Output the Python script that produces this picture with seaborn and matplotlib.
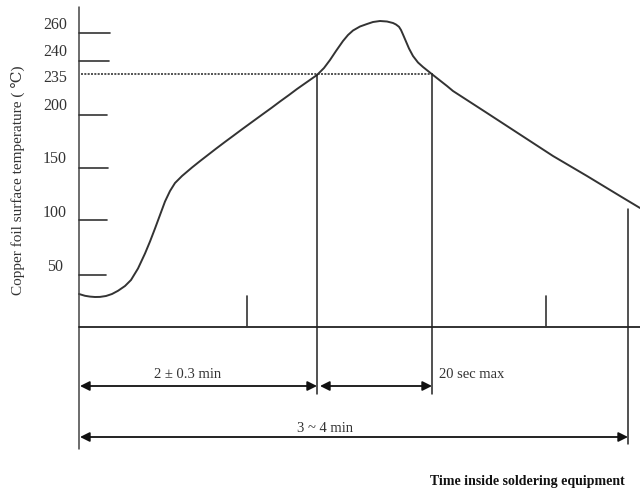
import matplotlib
matplotlib.use("Agg")
import matplotlib.pyplot as plt
import seaborn as sns
import pandas as pd

sns.set_theme(style="white")
plt.rcParams['font.family'] = ['Liberation Serif', 'DejaVu Serif']

# Schematic profile (canvas units, y grows downward)
profile_x = [79, 85, 90, 95, 100, 106, 112, 118, 125, 131, 138, 145, 150, 155,
             160, 165, 170, 175, 182, 192, 200, 208, 216, 225, 233, 242,
             252, 263, 272, 280, 289, 297, 307, 317, 324, 330, 336, 343, 348,
             353, 360, 367, 373, 380, 387, 393, 396, 399, 401, 403, 406, 409, 413,
             418, 423, 428, 433, 440, 447, 453, 470, 487, 520, 553, 587, 620, 640]
profile_y = [295, 296.8, 297.6, 298, 297.9, 297, 295, 291.8, 287, 281, 269.5, 254.5,
             242.5, 229.5, 216, 202.5, 192, 184, 177, 168.5, 162.1, 155.9, 149.7,
             142.9, 137, 130.3, 123, 115, 108.5, 102.5, 96, 90, 83, 76, 69, 61, 52,
             42, 36, 31.5, 27.5, 25, 23, 22, 22.5, 24, 25.5, 27.8, 31, 35.5, 42.5,
             49.5, 57, 63.5, 68, 72, 76, 81.5, 87, 92, 103, 114, 135.5, 157, 177,
             197, 209]

temp_labels = ["260", "240", "235", "200", "150", "100", "50"]
label_y = [25, 52, 78, 106, 159, 213, 267]
tick_y = [34, 62, None, 116, 169, 221, 276]
tick_len = [110, 109, None, 107, 108, 107, 106]

ref_temp_y = 75          # 235 °C line
axis_x = 79
base_y = 328
minor_ticks_x = [247, 546]
markers_x = [317, 432, 628]
markers_top = [76, 76, 210]
markers_bottom = [395, 395, 445]

spans = [("2 ± 0.3 min", 80, 317, 387), ("", 320, 432, 387), ("3 ~ 4 min", 80, 628, 438)]
span_text_pos = [(188, 375), None, (325, 428)]

fig = plt.figure(figsize=(6.4, 4.89), dpi=100)
ax = fig.add_axes([0, 0, 1, 1])
ax.set_xlim(0, 640)
ax.set_ylim(489, 0)
ax.axis("off")

lc = "#222222"
df = pd.DataFrame({"x": profile_x, "y": profile_y})
sns.lineplot(data=df, x="x", y="y", ax=ax, color="#333333", lw=1.4, sort=False,
             estimator=None, solid_joinstyle="round", solid_capstyle="round")

# axes lines
ax.plot([axis_x, axis_x], [8, 450], color="#444444", lw=1.1)
ax.plot([axis_x, 640], [base_y, base_y], color=lc, lw=1.3)

# temperature ticks and labels
for lab, ly, ty, tl in zip(temp_labels, label_y, tick_y, tick_len):
    ax.text(55, ly, lab, ha="center", va="center", fontsize=11.5, color="#333333")
    if ty is not None:
        ax.plot([axis_x, tl], [ty, ty], color="#333333", lw=1.2)

ax.plot([axis_x + 2, 433], [ref_temp_y, ref_temp_y], color="#333333", lw=1.2,
        ls=(0, (1.2, 0.8)))

for mx in minor_ticks_x:
    ax.plot([mx, mx], [297, base_y], color="#333333", lw=1.2)

for mx, t, b in zip(markers_x, markers_top, markers_bottom):
    ax.plot([mx, mx], [t, b], color=lc, lw=1.1)

for (txt, x0, x1, yy), tp in zip(spans, span_text_pos):
    ax.annotate("", xy=(x1, yy), xytext=(x0, yy),
                arrowprops=dict(arrowstyle="<|-|>", color="#111111", lw=1.3,
                                mutation_scale=14, shrinkA=0, shrinkB=0))
    if tp is not None:
        ax.text(tp[0], tp[1], txt, ha="center", va="center", fontsize=10.5,
                color="#333333")

ax.text(439, 375, "20 sec max", ha="left", va="center", fontsize=10.5, color="#333333")

ax.text(18, 180, "Copper foil surface temperature ( ℃)", rotation=90, ha="center",
        va="center", fontsize=11, color="#333333")

ax.text(625, 481, "Time inside soldering equipment", ha="right", va="center",
        fontsize=10, fontweight="bold", color="#111111")

fig.savefig("out.png", dpi=100)
